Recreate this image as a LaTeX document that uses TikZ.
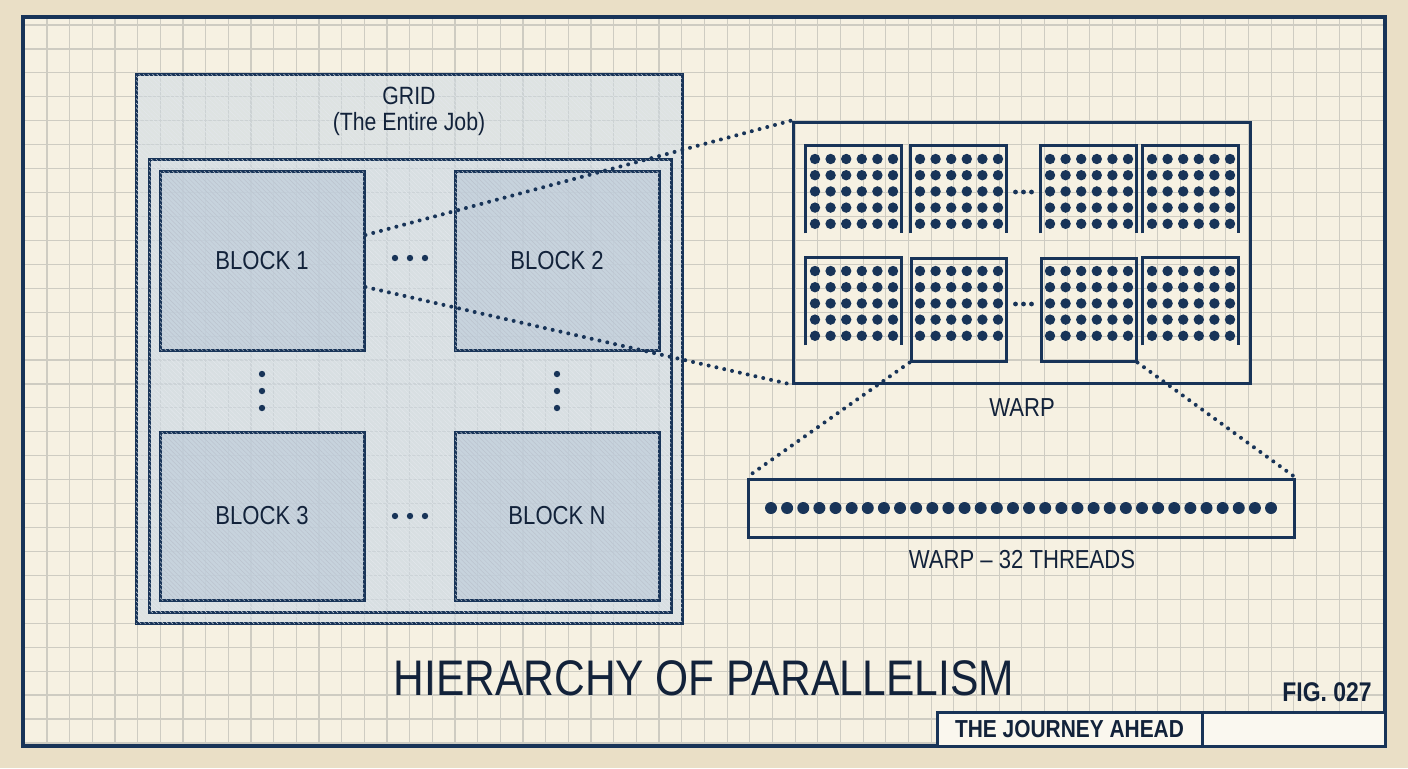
\documentclass[tikz,border=0pt]{standalone}
\usepackage{fontspec}
\setmainfont{Liberation Sans}[FakeStretch=0.85]
\usetikzlibrary{patterns.meta}
\definecolor{inkNavy}{RGB}{24,52,88}
\definecolor{inkText}{RGB}{18,34,58}
\definecolor{paperCream}{RGB}{246,241,226}
\definecolor{paperEdge}{RGB}{234,223,198}
\definecolor{gridGray}{RGB}{206,204,194}
\definecolor{tintBlue}{RGB}{204,216,226}
\definecolor{tintBlueDark}{RGB}{186,202,218}

\begin{document}
\begin{tikzpicture}[x=0.5pt,y=-0.5pt,
  frame/.style={draw=inkNavy,line width=1.5pt,inner sep=0pt},
  gridFrame/.style={frame,fill=tintBlue,fill opacity=0.55,text opacity=1,
    postaction={pattern={Lines[angle=-45,distance=1.6pt,line width=0.2pt]},pattern color=inkNavy!12}},
  blockBox/.style={frame,fill=tintBlueDark,fill opacity=0.55,text opacity=1,
    postaction={pattern={Lines[angle=-45,distance=1.6pt,line width=0.25pt]},pattern color=inkNavy!30},
    minimum width=102pt,text=inkText,font=\fontsize{13}{15}\selectfont},
  cell/.style={minimum width=47.5pt,minimum height=43.5pt,inner sep=0pt},
  label/.style={text=inkText,font=\fontsize{13}{15}\selectfont},
  dotLine/.style={draw=inkNavy,line width=2pt,line cap=round,dash pattern=on 0pt off 4pt}]
  \useasboundingbox (0,0) rectangle (1408,768);
  % paper and squared grid
  \fill[paperEdge] (0,0) rectangle (1408,768);
  \fill[paperCream] (23,17) rectangle (1385,746);
  \foreach \k in {0,...,58} \draw[gridGray,line width=0.6pt] ({47+22.67*\k},17) -- ({47+22.67*\k},746);
  \foreach \k in {0,...,30} \draw[gridGray,line width=0.6pt] (23,{25+23.93*\k}) -- (1385,{25+23.93*\k});
  \draw[inkNavy,line width=2pt] (23,17) rectangle (1385,746);

  % grid of blocks
  \node[gridFrame,minimum width=273pt,minimum height=274.5pt] (grid) at (409,348.5) {};
  \node[gridFrame,fill opacity=0.3,minimum width=261pt,minimum height=226.5pt] (blockArea) at (410,385.5) {};
  \node[label,align=center,font=\fontsize{12.5}{13}\selectfont] (gridLabel) at (409,111) {GRID\\(The Entire Job)};
  \node[blockBox,minimum height=89.5pt] (b1) at (262,260.5) {BLOCK 1};
  \node[blockBox,minimum height=89.5pt] (b2) at (557,260.5) {BLOCK 2};
  \node[blockBox,minimum height=84pt] (b3) at (262,516) {BLOCK 3};
  \node[blockBox,minimum height=84pt] (bN) at (557,516) {BLOCK N};
  \foreach \y in {258,516} \foreach \dx in {-15,0,15} \fill[inkNavy] ({410+\dx},\y) circle (1.6pt);
  \foreach \x in {262,557} \foreach \dy in {-17,0,17} \fill[inkNavy] (\x,{391+\dy}) circle (1.6pt);

  % warp
  \node[frame,minimum width=228.5pt,minimum height=130.5pt] (warp) at (1021.5,252.5) {};
  \node[label] (warpLabel) at (1022,408) {WARP};
  \foreach \c/\xl in {1/806,2/911,3/1041,4/1143} {
    \node[cell] (s1\c) at ({\xl+47.5},189.5) {};
    \draw[inkNavy,line width=1.5pt] (s1\c.south west) -- (s1\c.north west) -- (s1\c.north east) -- (s1\c.south east);
  }
  \foreach \c/\xl in {1/806,4/1143} {
    \node[cell] (s2\c) at ({\xl+47.5},301.5) {};
    \draw[inkNavy,line width=1.5pt] (s2\c.south west) -- (s2\c.north west) -- (s2\c.north east) -- (s2\c.south east);
  }
  \foreach \c/\xl in {2/911,3/1041}
    \node[frame,cell,minimum height=51.5pt] (s2\c) at ({\xl+47.5},309.5) {};
  \foreach \xl in {806,911,1041,1143} \foreach \yt in {146,258}
    \foreach \i in {0,...,5} \foreach \j in {0,...,4}
      \fill[inkNavy] ({\xl+9+15.6*\i},{\yt+13+16.2*\j}) circle (2.6pt);
  \foreach \y in {192,304} \foreach \dx in {-8,0,8} \fill[inkNavy] ({1023.5+\dx},\y) circle (1.2pt);

  % one warp, 32 threads
  \node[frame,minimum width=273pt,minimum height=29pt] (threads) at (1021,508) {};
  \foreach \k in {0,...,31} \fill[inkNavy] ({771+16.13*\k},508) circle (3pt);
  \node[label] (threadsLabel) at (1022,560) {WARP – 32 THREADS};

  % zoom lines
  \draw[dotLine] ([yshift=12.75pt]b1.east) -- (warp.north west);
  \draw[dotLine] ([yshift=-13.25pt]b1.east) -- (warp.south west);
  \draw[dotLine] (s22.south west) -- (threads.north west);
  \draw[dotLine] (s23.south east) -- (threads.north east);

  % title block
  \node[text=inkText,font=\fontsize{25}{30}\selectfont] (title) at (704,678) {HIERARCHY OF PARALLELISM};
  \node[text=inkText,font=\bfseries\fontsize{13.5}{16}\selectfont] (fig) at (1327,692) {FIG. 027};
  \node[frame,fill=paperCream!60!white,minimum width=132.5pt,minimum height=17pt,
    text=inkText,font=\bfseries\fontsize{12.3}{14}\selectfont] (journey) at (1069.5,729) {THE JOURNEY AHEAD};
  \node[frame,fill=paperCream!50!white,minimum width=91.5pt,minimum height=17pt] (blankCell) at (1293.5,729) {};
\end{tikzpicture}
\end{document}
